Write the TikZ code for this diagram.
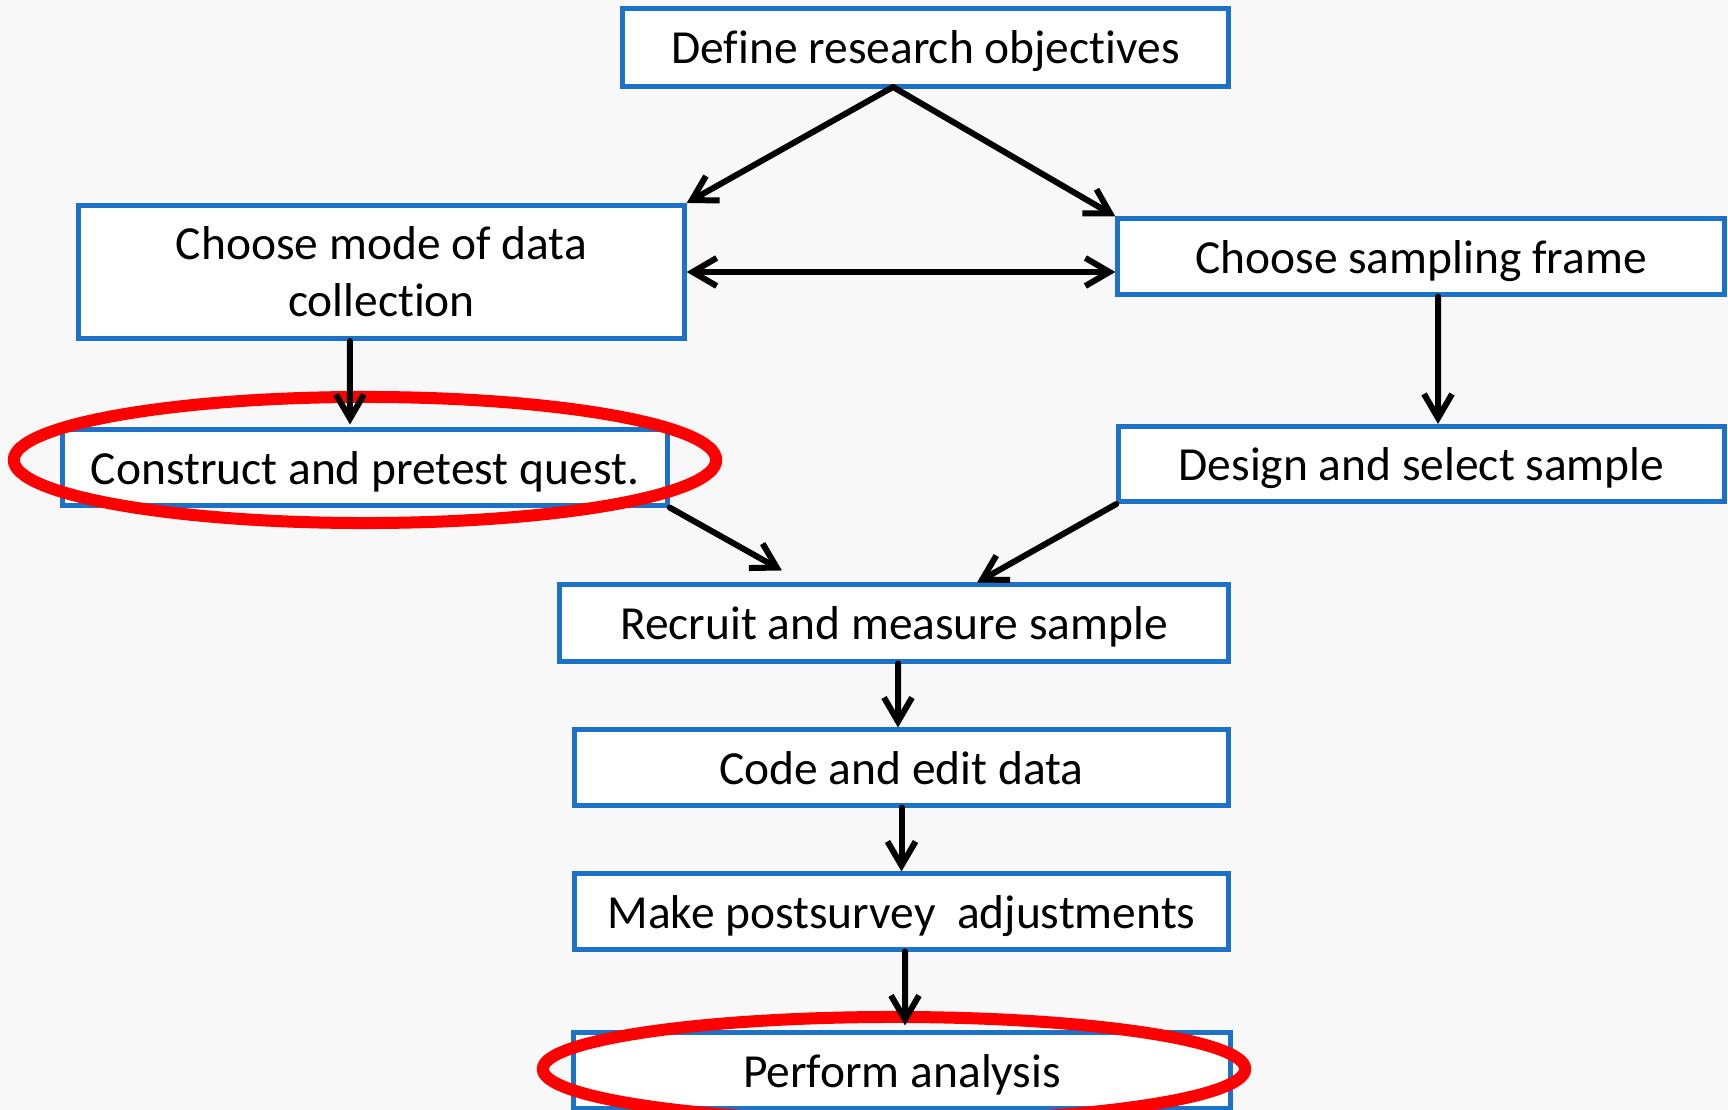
\documentclass[tikz,border=0pt]{standalone}
\usepackage{fontspec}
\setmainfont[Ligatures=NoCommon]{Carlito}
\usetikzlibrary{arrows.meta, shapes.geometric}
\definecolor{boxblue}{RGB}{28,114,198}
\definecolor{slide}{RGB}{248,248,248}

\begin{document}
\begin{tikzpicture}[x=0.01cm, y=-0.01cm,
    >={Straight Barb[length=0.24cm, width=0.28cm]},
    stepbox/.style={draw=boxblue, line width=0.05cm, fill=white, inner sep=0pt,
      minimum width=6.05cm, minimum height=0.75cm, align=center,
      font=\fontsize{13.5}{16.2}\selectfont},
    onebox/.style={stepbox, text height=0.38cm, text depth=0.05cm},
    flow/.style={line width=0.06cm, line cap=round},
    ring/.style={ellipse, draw=red, line width=0.12cm, inner sep=0pt}]
  \fill[slide] (0,0) rectangle (1728,1110);
  \useasboundingbox (0,0) rectangle (1728,1110);

  \node[onebox, minimum height=0.77cm] (define) at (925.5,47.5) {Define research objectives};
  \node[stepbox, minimum height=1.33cm] (mode) at (381.5,272) {Choose mode of data\\collection};
  \node[onebox, minimum width=6.06cm] (frame) at (1421,256.5) {Choose sampling frame};
  \node[onebox, minimum width=6.04cm] (construct) at (365,467.5) {Construct and pretest quest.};
  \node[onebox] (design) at (1421.5,464) {Design and select sample};
  \node[onebox, minimum width=6.68cm, minimum height=0.76cm] (recruit) at (894,623) {Recruit and measure sample};
  \node[onebox, minimum width=6.53cm] (code) at (901.5,767.5) {Code and edit data};
  \node[onebox, minimum width=6.53cm] (adjust) at (901.5,911.5) {Make postsurvey\ \ adjustments};
  \node[onebox, minimum width=6.56cm] (analysis) at (902,1070.5) {Perform analysis};

  \node[ring, minimum width=7.02cm, minimum height=1.26cm] (hilite1) at (365,460) {};
  \node[ring, minimum width=7.02cm, minimum height=1.04cm] (hilite2) at (894,1069) {};

  \coordinate (split) at (893,87);
  \draw[->, flow] (split) -- (mode.north east);
  \draw[->, flow] (split) -- (frame.north west);
  \draw[<->, flow] (mode.east) -- (mode.east -| frame.west);
  \draw[->, flow] ([xshift=-0.315cm]mode.south) -- ([xshift=-0.15cm, yshift=0.03cm]construct.north);
  \draw[->, flow] ([xshift=0.17cm]frame.south) -- ([xshift=0.165cm]design.north);
  \draw[->, flow] (construct.south east) -- ([xshift=-1.12cm, yshift=0.12cm]recruit.north);
  \draw[->, flow] (design.south west) -- ([xshift=0.83cm]recruit.north);
  \draw[->, flow] ([xshift=0.04cm]recruit.south) -- ([xshift=-0.035cm]code.north);
  \draw[->, flow] (code.south) -- (adjust.north);
  \draw[->, flow] ([xshift=0.035cm]adjust.south) -- ([xshift=0.03cm, yshift=0.05cm]analysis.north);
\end{tikzpicture}
\end{document}
